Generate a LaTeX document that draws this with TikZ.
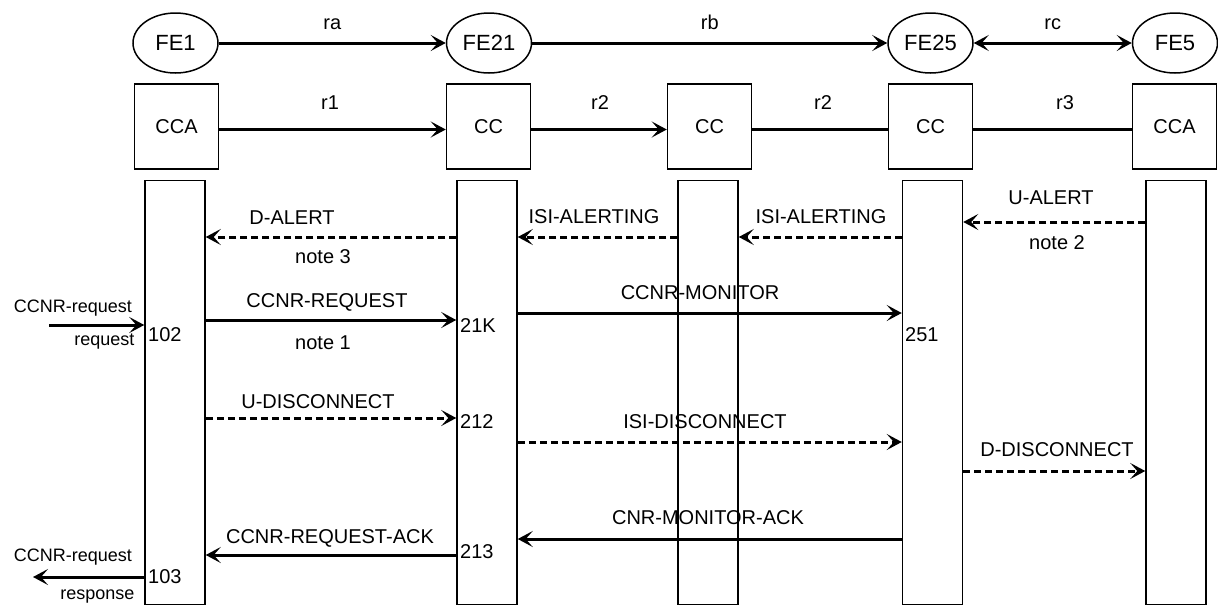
\documentclass[tikz,border=0pt]{standalone}
\usepackage{fontspec}
\setmainfont{Liberation Sans}
\usetikzlibrary{arrows.meta, positioning, shapes.geometric}

\begin{document}
\begin{tikzpicture}[x=1pt, y=-1pt,
  >={Stealth[length=15pt, width=16pt, inset=7pt]},
  every node/.style={font=\fontsize{20}{22}\selectfont},
  fe/.style={draw, ellipse, line width=1.5pt, minimum width=85pt, minimum height=60pt, inner sep=0pt, font=\fontsize{22}{24}\selectfont},
  cbox/.style={draw, line width=1.5pt, minimum width=84pt, minimum height=85pt, inner sep=0pt},
  lifeline/.style={draw, line width=1.5pt, minimum width=60pt, minimum height=424pt, inner sep=0pt},
  msg/.style={->, line width=3pt},
  dmsg/.style={msg, dash pattern=on 7pt off 4pt},
  side/.style={font=\fontsize{18}{20}\selectfont}]
  \useasboundingbox (0,0) rectangle (1218,606);

  % functional entities
  \node[fe] (fe1) at (175.5,43) {FE1};
  \node[fe] (fe21) at (489,43) {FE21};
  \node[fe] (fe25) at (930.5,43) {FE25};
  \node[fe] (fe5) at (1175,43) {FE5};
  \draw[msg] (fe1) -- (fe21) node[pos=0.5, above=8pt] {ra};
  \draw[msg] (fe21) -- (fe25) node[pos=0.5, above=8pt] {rb};
  \draw[msg, <->] (fe25) -- (fe5) node[pos=0.5, above=8pt] {rc};

  % call control boxes
  \node[cbox] (cca1) at (176.5,126.5) {CCA};
  \node[cbox] (cc21) at (488.5,126.5) {CC};
  \node[cbox] (cc2x) at (709.5,126.5) {CC};
  \node[cbox] (cc25) at (930.5,126.5) {CC};
  \node[cbox] (cca5) at (1174.5,126.5) {CCA};
  \draw[msg] ([yshift=-3pt]cca1.east) -- ([yshift=-3pt]cc21.west);
  \draw[msg] ([yshift=-3pt]cc21.east) -- ([yshift=-3pt]cc2x.west);
  \draw[line width=3pt] ([yshift=-3pt]cc2x.east) -- ([yshift=-3pt]cc25.west);
  \draw[line width=3pt] ([yshift=-3pt]cc25.east) -- ([yshift=-3pt]cca5.west);
  \node at (330,103) {r1};
  \node at (600,103) {r2};
  \node at (823,103) {r2};
  \node at (1065,103) {r3};

  % lifelines
  \node[lifeline] (l1) at (175,392.5) {};
  \node[lifeline] (l2) at (487,392.5) {};
  \node[lifeline] (l3) at (708,392.5) {};
  \node[lifeline] (l4) at (932.5,392.5) {};
  \node[lifeline] (l5) at (1176,392.5) {};

  % message rows
  \coordinate (yu) at (0,222);
  \coordinate (ya) at (0,237);
  \coordinate (ymon) at (0,313);
  \coordinate (yreq) at (0,320);
  \coordinate (inleft) at (49,325);
  \coordinate (ydisc) at (0,418);
  \coordinate (yisid) at (0,442);
  \coordinate (ydd) at (0,471);
  \coordinate (yack) at (0,539);
  \coordinate (yreqack) at (0,555);
  \coordinate (outleft) at (33,577);

  \draw[dmsg] (l2.west |- ya) -- (l1.east |- ya);
  \draw[dmsg] (l3.west |- ya) -- (l2.east |- ya);
  \draw[dmsg] (l4.west |- ya) -- (l3.east |- ya);
  \draw[dmsg] (l5.west |- yu) -- (l4.east |- yu);
  \draw[msg] (inleft) -- (l1.west |- inleft);
  \draw[msg] (l1.east |- yreq) -- (l2.west |- yreq);
  \draw[msg] (l2.east |- ymon) -- (l4.west |- ymon);
  \draw[dmsg] (l1.east |- ydisc) -- (l2.west |- ydisc);
  \draw[dmsg] (l2.east |- yisid) -- (l4.west |- yisid);
  \draw[dmsg] (l4.east |- ydd) -- (l5.west |- ydd);
  \draw[msg] (l4.west |- yack) -- (l2.east |- yack);
  \draw[msg] (l2.west |- yreqack) -- (l1.east |- yreqack);
  \draw[msg] (l1.west |- outleft) -- (outleft);

  % message labels
  \node at (292,218) {D-ALERT};
  \node at (323,257) {note 3};
  \node at (594,217) {ISI-ALERTING};
  \node at (821,217) {ISI-ALERTING};
  \node at (1051,198) {U-ALERT};
  \node at (1057,243) {note 2};
  \node at (327,302) {CCNR-REQUEST};
  \node at (323,343) {note 1};
  \node at (700,293) {CCNR-MONITOR};
  \node at (318,402) {U-DISCONNECT};
  \node at (705,422) {ISI-DISCONNECT};
  \node at (1057,450) {D-DISCONNECT};
  \node at (708,518) {CNR-MONITOR-ACK};
  \node at (330,538) {CCNR-REQUEST-ACK};

  % primitives and state numbers
  \node[side] at (73,308) {CCNR-request};
  \node[side, anchor=east] at (138,342) {request};
  \node[side] at (73,557) {CCNR-request};
  \node[side, anchor=east] at (138,597) {response};
  \node[anchor=west, inner sep=1pt] at (147,335) {102};
  \node[anchor=west, inner sep=1pt] at (459,326) {21K};
  \node[anchor=west, inner sep=1pt] at (904,335) {251};
  \node[anchor=west, inner sep=1pt] at (459,422) {212};
  \node[anchor=west, inner sep=1pt] at (459,552) {213};
  \node[anchor=west, inner sep=1pt] at (147,577) {103};
\end{tikzpicture}
\end{document}
